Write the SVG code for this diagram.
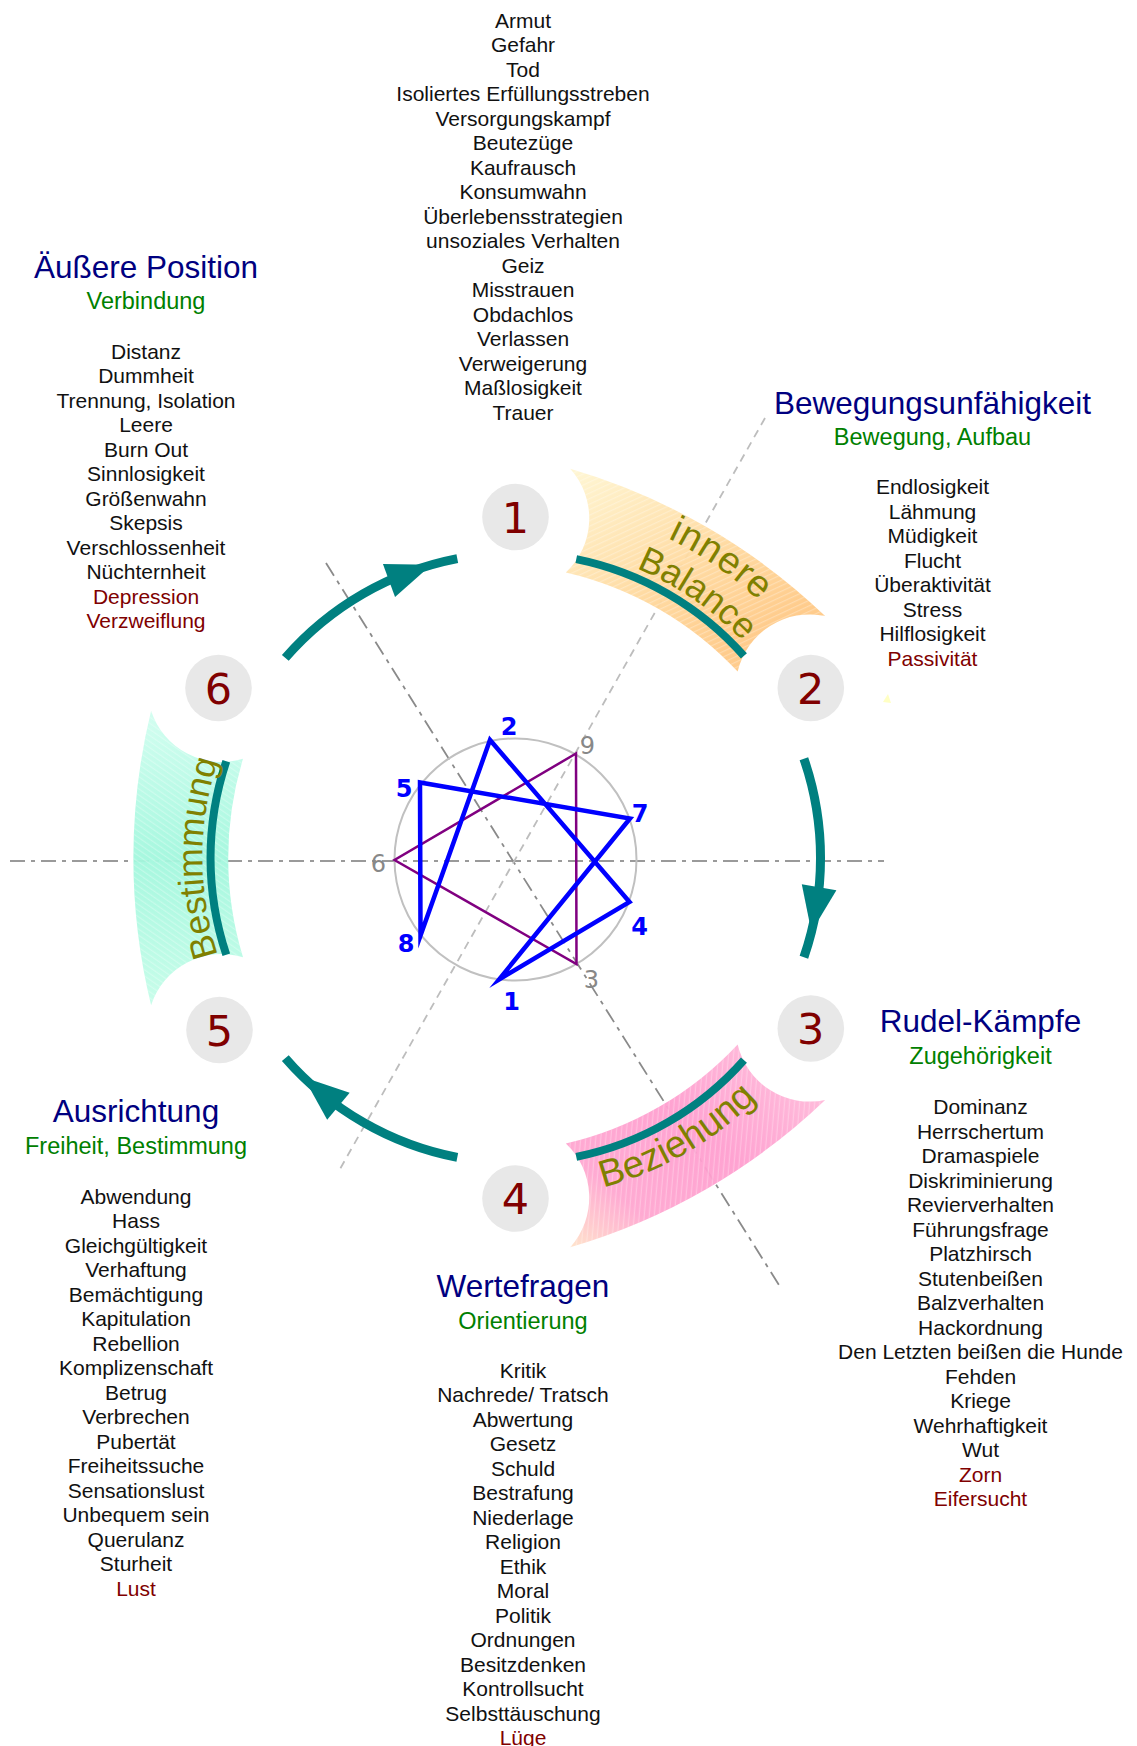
<svg xmlns="http://www.w3.org/2000/svg" width="1137" height="1746" viewBox="0 0 1137 1746">
<style>
.it{font-family:"Liberation Sans",Arial,sans-serif;font-size:21px;text-anchor:middle;fill:#111}
.ti{font-family:"Liberation Sans",Arial,sans-serif;font-size:31.5px;text-anchor:middle;fill:#000080}
.st{font-family:"Liberation Sans",Arial,sans-serif;font-size:23.5px;text-anchor:middle;fill:#008000}
.red{fill:#800000}
.num{font-family:"DejaVu Sans",Verdana,sans-serif;font-size:43px;text-anchor:middle;fill:#800000}
.nc{fill:#e8e8e8}
.bl{font-family:"DejaVu Sans",Verdana,sans-serif;font-size:24px;font-weight:bold;text-anchor:middle;fill:#0000ff}
.gl{font-family:"DejaVu Sans",Verdana,sans-serif;font-size:24px;text-anchor:middle;fill:#888}
.bt{font-family:"Liberation Sans",Arial,sans-serif;text-anchor:middle;fill:#808000}
.teal{fill:none;stroke:#008080;stroke-width:8}
.arr{fill:none;stroke:#008080;stroke-width:9}
.head{fill:#008080}
.stripe{fill:url(#stripes)}
</style>
<defs>
<pattern id="stripes" patternUnits="userSpaceOnUse" width="5" height="5" patternTransform="rotate(35)">
<rect width="5" height="1.2" fill="#ffffff" fill-opacity="0.28"/>
</pattern>
<linearGradient id="gBal" gradientUnits="userSpaceOnUse" x1="395" y1="-130" x2="280" y2="80">
<stop offset="0" stop-color="#fff6d2"/>
<stop offset="0.6" stop-color="#ffd99e"/>
<stop offset="1" stop-color="#ffc986"/>
</linearGradient>
<linearGradient id="gBez" gradientUnits="userSpaceOnUse" x1="280" y1="-110" x2="375" y2="150">
<stop offset="0" stop-color="#ffb6d8"/>
<stop offset="0.35" stop-color="#ff9ecf"/>
<stop offset="0.72" stop-color="#ffa6d0"/>
<stop offset="1" stop-color="#ffe8c8"/>
</linearGradient>
<linearGradient id="gBes" gradientUnits="userSpaceOnUse" x1="330" y1="-150" x2="330" y2="150">
<stop offset="0" stop-color="#c6fde9"/>
<stop offset="0.5" stop-color="#a2f7dd"/>
<stop offset="1" stop-color="#d2fef0"/>
</linearGradient>
<path id="band" d="M 364.4 -147.2 A 620 620 0 0 1 364.4 147.2 A 74 74 0 0 0 272.5 99.2 A 340 340 0 0 0 272.5 -99.2 A 74 74 0 0 0 364.4 -147.2 Z"/>
<path id="cw314" d="M 222 -222 A 314 314 0 0 1 222 222"/>
<path id="cw354" d="M 250.3 -250.3 A 354 354 0 0 1 250.3 250.3"/>
<path id="cw313" d="M 221.3 -221.3 A 313 313 0 0 1 221.3 221.3"/>
<path id="ccw341" d="M 241.1 241.1 A 341 341 0 0 0 241.1 -241.1"/>
<g id="arrowShape">
<path class="arr" d="M 288.4 -99.3 A 305 305 0 0 1 288.4 99.3"/>
<polygon class="head" points="286.3,26.2 320.9,32.2 295.9,73.8"/>
</g>
</defs>

<rect width="1137" height="1746" fill="#ffffff"/>

<g id="axes" fill="none" stroke-width="1.8">
<line x1="10" y1="861" x2="884" y2="861" stroke="#9a9a9a" stroke-dasharray="15 6 4 6"/>
<line x1="326" y1="563" x2="779" y2="1285" stroke="#8a8a8a" stroke-dasharray="15 6 4 6"/>
<line x1="765" y1="418" x2="340" y2="1169" stroke="#bdbdbd" stroke-dasharray="8 6"/>
</g>

<g id="band-balance" transform="translate(515.5 858) rotate(-60)">
<use href="#band" fill="url(#gBal)" fill-opacity="0.95"/>
<use href="#band" class="stripe"/>
<path class="teal" d="M 289.2 -96.8 A 305 305 0 0 1 289.2 96.8"/>
<g transform="rotate(4.5)">
<text class="bt" font-size="38" letter-spacing="1"><textPath href="#cw354" startOffset="50%">innere</textPath></text>
<text class="bt" font-size="36"><textPath href="#cw314" startOffset="50%">Balance</textPath></text>
</g>
</g>

<g id="band-beziehung" transform="translate(515.5 858) rotate(60)">
<use href="#band" fill="url(#gBez)" fill-opacity="0.95"/>
<use href="#band" class="stripe"/>
<path class="teal" d="M 289.2 -96.8 A 305 305 0 0 1 289.2 96.8"/>
<text class="bt" font-size="38"><textPath href="#ccw341" startOffset="50%">Beziehung</textPath></text>
</g>

<g id="band-bestimmung" transform="translate(515.5 858) rotate(180)">
<use href="#band" fill="url(#gBes)" fill-opacity="0.95"/>
<use href="#band" class="stripe"/>
<path class="teal" d="M 289.2 -96.8 A 305 305 0 0 1 289.2 96.8"/>
<text class="bt" font-size="35.5"><textPath href="#cw313" startOffset="50%">Bestimmung</textPath></text>
</g>

<g id="connectors">
<use href="#arrowShape" transform="translate(515.5 858) rotate(-120)"/>
<use href="#arrowShape" transform="translate(515.5 858)"/>
<use href="#arrowShape" transform="translate(515.5 858) rotate(120)"/>
</g>

<g id="enneagram">
<circle cx="515.5" cy="859.5" r="121" fill="none" stroke="#c0c0c0" stroke-width="2"/>
<polygon points="576,753.5 394.5,860 576.5,964" fill="none" stroke="#800080" stroke-width="2.5"/>
<polygon points="499,979.5 629.5,902 490,740 420.5,935.5 420,782.5 630,818.5" fill="none" stroke="#0000ff" stroke-width="4.5" stroke-linejoin="miter" stroke-miterlimit="10"/>
<text class="gl" x="587.5" y="753.5">9</text>
<text class="gl" x="378.5" y="871.5">6</text>
<text class="gl" x="591.5" y="988">3</text>
<text class="bl" x="511.5" y="1010">1</text>
<text class="bl" x="509" y="735">2</text>
<text class="bl" x="639.5" y="935">4</text>
<text class="bl" x="404" y="796.5">5</text>
<text class="bl" x="640" y="821.5">7</text>
<text class="bl" x="406" y="951.5">8</text>
</g>

<polygon points="883,702 888,694 891,703" fill="#ffffc4"/>

<g id="node-1"><circle class="nc" cx="515.5" cy="517" r="33.3"/><text class="num" x="515.5" y="532.7">1</text></g>
<g id="node-2"><circle class="nc" cx="810.8" cy="688" r="33.3"/><text class="num" x="810.8" y="703.7">2</text></g>
<g id="node-3"><circle class="nc" cx="810.8" cy="1028.5" r="33.3"/><text class="num" x="810.8" y="1044.2">3</text></g>
<g id="node-4"><circle class="nc" cx="515.5" cy="1198.5" r="33.3"/><text class="num" x="515.5" y="1214.2">4</text></g>
<g id="node-5"><circle class="nc" cx="219.5" cy="1030" r="33.3"/><text class="num" x="219.5" y="1045.7">5</text></g>
<g id="node-6"><circle class="nc" cx="218.5" cy="688" r="33.3"/><text class="num" x="218.5" y="703.7">6</text></g>

<g id="text-1">
<text class="it" x="523" y="27.5"><tspan x="523">Armut</tspan><tspan x="523" dy="24.5">Gefahr</tspan><tspan x="523" dy="24.5">Tod</tspan><tspan x="523" dy="24.5">Isoliertes Erfüllungsstreben</tspan><tspan x="523" dy="24.5">Versorgungskampf</tspan><tspan x="523" dy="24.5">Beutezüge</tspan><tspan x="523" dy="24.5">Kaufrausch</tspan><tspan x="523" dy="24.5">Konsumwahn</tspan><tspan x="523" dy="24.5">Überlebensstrategien</tspan><tspan x="523" dy="24.5">unsoziales Verhalten</tspan><tspan x="523" dy="24.5">Geiz</tspan><tspan x="523" dy="24.5">Misstrauen</tspan><tspan x="523" dy="24.5">Obdachlos</tspan><tspan x="523" dy="24.5">Verlassen</tspan><tspan x="523" dy="24.5">Verweigerung</tspan><tspan x="523" dy="24.5">Maßlosigkeit</tspan><tspan x="523" dy="24.5">Trauer</tspan></text>
</g>

<g id="text-2">
<text class="ti" x="932.5" y="414">Bewegungsunfähigkeit</text>
<text class="st" x="932.5" y="444.5">Bewegung, Aufbau</text>
<text class="it" x="932.5" y="494"><tspan x="932.5">Endlosigkeit</tspan><tspan x="932.5" dy="24.5">Lähmung</tspan><tspan x="932.5" dy="24.5">Müdigkeit</tspan><tspan x="932.5" dy="24.5">Flucht</tspan><tspan x="932.5" dy="24.5">Überaktivität</tspan><tspan x="932.5" dy="24.5">Stress</tspan><tspan x="932.5" dy="24.5">Hilflosigkeit</tspan><tspan x="932.5" dy="24.5" class="red">Passivität</tspan></text>
</g>

<g id="text-3">
<text class="ti" x="980.5" y="1032">Rudel-Kämpfe</text>
<text class="st" x="980.5" y="1064">Zugehörigkeit</text>
<text class="it" x="980.5" y="1114"><tspan x="980.5">Dominanz</tspan><tspan x="980.5" dy="24.5">Herrschertum</tspan><tspan x="980.5" dy="24.5">Dramaspiele</tspan><tspan x="980.5" dy="24.5">Diskriminierung</tspan><tspan x="980.5" dy="24.5">Revierverhalten</tspan><tspan x="980.5" dy="24.5">Führungsfrage</tspan><tspan x="980.5" dy="24.5">Platzhirsch</tspan><tspan x="980.5" dy="24.5">Stutenbeißen</tspan><tspan x="980.5" dy="24.5">Balzverhalten</tspan><tspan x="980.5" dy="24.5">Hackordnung</tspan><tspan x="980.5" dy="24.5">Den Letzten beißen die Hunde</tspan><tspan x="980.5" dy="24.5">Fehden</tspan><tspan x="980.5" dy="24.5">Kriege</tspan><tspan x="980.5" dy="24.5">Wehrhaftigkeit</tspan><tspan x="980.5" dy="24.5">Wut</tspan><tspan x="980.5" dy="24.5" class="red">Zorn</tspan><tspan x="980.5" dy="24.5" class="red">Eifersucht</tspan></text>
</g>

<g id="text-4">
<text class="ti" x="523" y="1297">Wertefragen</text>
<text class="st" x="523" y="1328.5">Orientierung</text>
<text class="it" x="523" y="1377.5"><tspan x="523">Kritik</tspan><tspan x="523" dy="24.5">Nachrede/ Tratsch</tspan><tspan x="523" dy="24.5">Abwertung</tspan><tspan x="523" dy="24.5">Gesetz</tspan><tspan x="523" dy="24.5">Schuld</tspan><tspan x="523" dy="24.5">Bestrafung</tspan><tspan x="523" dy="24.5">Niederlage</tspan><tspan x="523" dy="24.5">Religion</tspan><tspan x="523" dy="24.5">Ethik</tspan><tspan x="523" dy="24.5">Moral</tspan><tspan x="523" dy="24.5">Politik</tspan><tspan x="523" dy="24.5">Ordnungen</tspan><tspan x="523" dy="24.5">Besitzdenken</tspan><tspan x="523" dy="24.5">Kontrollsucht</tspan><tspan x="523" dy="24.5">Selbsttäuschung</tspan><tspan x="523" dy="24.5" class="red">Lüge</tspan></text>
</g>

<g id="text-5">
<text class="ti" x="136" y="1122">Ausrichtung</text>
<text class="st" x="136" y="1153.5">Freiheit, Bestimmung</text>
<text class="it" x="136" y="1203.5"><tspan x="136">Abwendung</tspan><tspan x="136" dy="24.5">Hass</tspan><tspan x="136" dy="24.5">Gleichgültigkeit</tspan><tspan x="136" dy="24.5">Verhaftung</tspan><tspan x="136" dy="24.5">Bemächtigung</tspan><tspan x="136" dy="24.5">Kapitulation</tspan><tspan x="136" dy="24.5">Rebellion</tspan><tspan x="136" dy="24.5">Komplizenschaft</tspan><tspan x="136" dy="24.5">Betrug</tspan><tspan x="136" dy="24.5">Verbrechen</tspan><tspan x="136" dy="24.5">Pubertät</tspan><tspan x="136" dy="24.5">Freiheitssuche</tspan><tspan x="136" dy="24.5">Sensationslust</tspan><tspan x="136" dy="24.5">Unbequem sein</tspan><tspan x="136" dy="24.5">Querulanz</tspan><tspan x="136" dy="24.5">Sturheit</tspan><tspan x="136" dy="24.5" class="red">Lust</tspan></text>
</g>

<g id="text-6">
<text class="ti" x="146" y="278">Äußere Position</text>
<text class="st" x="146" y="308.5">Verbindung</text>
<text class="it" x="146" y="358.5"><tspan x="146">Distanz</tspan><tspan x="146" dy="24.5">Dummheit</tspan><tspan x="146" dy="24.5">Trennung, Isolation</tspan><tspan x="146" dy="24.5">Leere</tspan><tspan x="146" dy="24.5">Burn Out</tspan><tspan x="146" dy="24.5">Sinnlosigkeit</tspan><tspan x="146" dy="24.5">Größenwahn</tspan><tspan x="146" dy="24.5">Skepsis</tspan><tspan x="146" dy="24.5">Verschlossenheit</tspan><tspan x="146" dy="24.5">Nüchternheit</tspan><tspan x="146" dy="24.5" class="red">Depression</tspan><tspan x="146" dy="24.5" class="red">Verzweiflung</tspan></text>
</g>
</svg>
